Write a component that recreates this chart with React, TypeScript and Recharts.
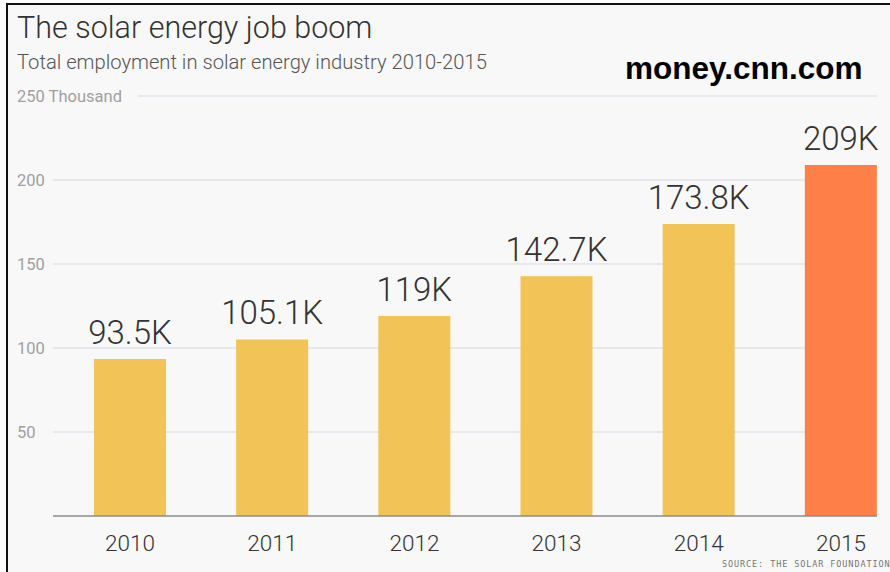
import { BarChart, Bar, XAxis, YAxis, CartesianGrid, Cell, LabelList } from "recharts";

const years = ["2010", "2011", "2012", "2013", "2014", "2015"];
const jobs = [93.5, 105.1, 119, 142.7, 173.8, 209];
const jobLabels = ["93.5K", "105.1K", "119K", "142.7K", "173.8K", "209K"];
const yTicks = [0, 50, 100, 150, 200, 250];
const yTickLabels = ["", "50", "100", "150", "200", "250 Thousand"];

const YELLOW = "#f2c356";
const ORANGE = "#ff7f48";
const FONT = "'Roboto', 'Liberation Sans', Arial, sans-serif";

const chartData = years.map((year, i) => ({
    year,
    value: jobs[i],
    label: jobLabels[i],
}));

const YTick = (props: any) => {
    const { y, payload } = props;
    const text = yTickLabels[yTicks.indexOf(payload?.value)];
    if (!text) return <g />;
    return (
        <text x={17} y={y} dy={5.5} fontSize={16.5} fill="#a0a0a0" fontFamily={FONT} textAnchor="start">
            {text}
        </text>
    );
};

const GridLine = (props: any) => {
    const { x1, x2, y1, y2, index } = props;
    if (yTicks[index] === 0) return <g />;
    // the top line makes room for the "250 Thousand" label
    const start = yTicks[index] === 250 ? x1 + 85 : x1;
    return <line x1={start} x2={x2} y1={y1} y2={y2} stroke="#e2e2ea" strokeWidth={1.5} />;
};

const App = () => {
    return (
        <div
            style={{
                position: "absolute",
                left: 0,
                top: 0,
                width: 890,
                height: 572,
                background: "#fff",
                overflow: "hidden",
                fontFamily: FONT,
            }}
        >
            {/* frame */}
            <div
                style={{
                    position: "absolute",
                    left: 6,
                    top: 3,
                    right: 0,
                    bottom: 0,
                    borderLeft: "2px solid #111",
                    borderTop: "2px solid #111",
                    background: "#f8f8f8",
                }}
            />
            <div style={{ position: "absolute", left: 17, top: 10, fontSize: 30.5, fontWeight: 300, color: "#333", whiteSpace: "nowrap" }}>
                The solar energy job boom
            </div>
            <div style={{ position: "absolute", left: 17, top: 50, fontSize: 20.2, fontWeight: 300, color: "#555", whiteSpace: "nowrap" }}>
                Total employment in solar energy industry 2010-2015
            </div>
            <div
                style={{
                    position: "absolute",
                    left: 625,
                    top: 50,
                    fontSize: 31.5,
                    fontWeight: 700,
                    color: "#000",
                    fontFamily: "'Liberation Sans', Arial, sans-serif",
                    whiteSpace: "nowrap",
                }}
            >
                money.cnn.com
            </div>

            <div style={{ position: "absolute", left: 0, top: 0 }}>
                <BarChart
                    width={890}
                    height={572}
                    data={chartData}
                    margin={{ top: 96, right: 13, left: 52, bottom: 26 }}
                >
                    <CartesianGrid vertical={false} horizontal={<GridLine />} />
                    <YAxis
                        width={1}
                        domain={[0, 250]}
                        ticks={yTicks}
                        interval={0}
                        axisLine={false}
                        tickLine={false}
                        tick={<YTick />}
                    />
                    <XAxis
                        dataKey="year"
                        height={30}
                        padding={{ left: 6, right: -35 }}
                        axisLine={{ stroke: "#8c8c8c", strokeWidth: 1.5 }}
                        tickLine={false}
                        tick={{ fontSize: 22.5, fill: "#333", fontFamily: FONT, fontWeight: 300 }}
                        dy={11}
                    />
                    <Bar dataKey="value" barSize={72} isAnimationActive={false}>
                        {chartData.map((d, i) => (
                            <Cell key={d.year} fill={i === chartData.length - 1 ? ORANGE : YELLOW} />
                        ))}
                        <LabelList
                            dataKey="label"
                            position="top"
                            offset={15}
                            fontSize={33}
                            fontWeight={300}
                            fill="#333"
                            fontFamily={FONT}
                        />
                    </Bar>
                </BarChart>
            </div>

            <div
                style={{
                    position: "absolute",
                    left: 722,
                    top: 559,
                    fontSize: 8.5,
                    letterSpacing: 0.9,
                    color: "#777",
                    fontFamily: "'DejaVu Sans Mono', monospace",
                    whiteSpace: "nowrap",
                }}
            >
                SOURCE: THE SOLAR FOUNDATION
            </div>
        </div>
    );
};

export default App;
